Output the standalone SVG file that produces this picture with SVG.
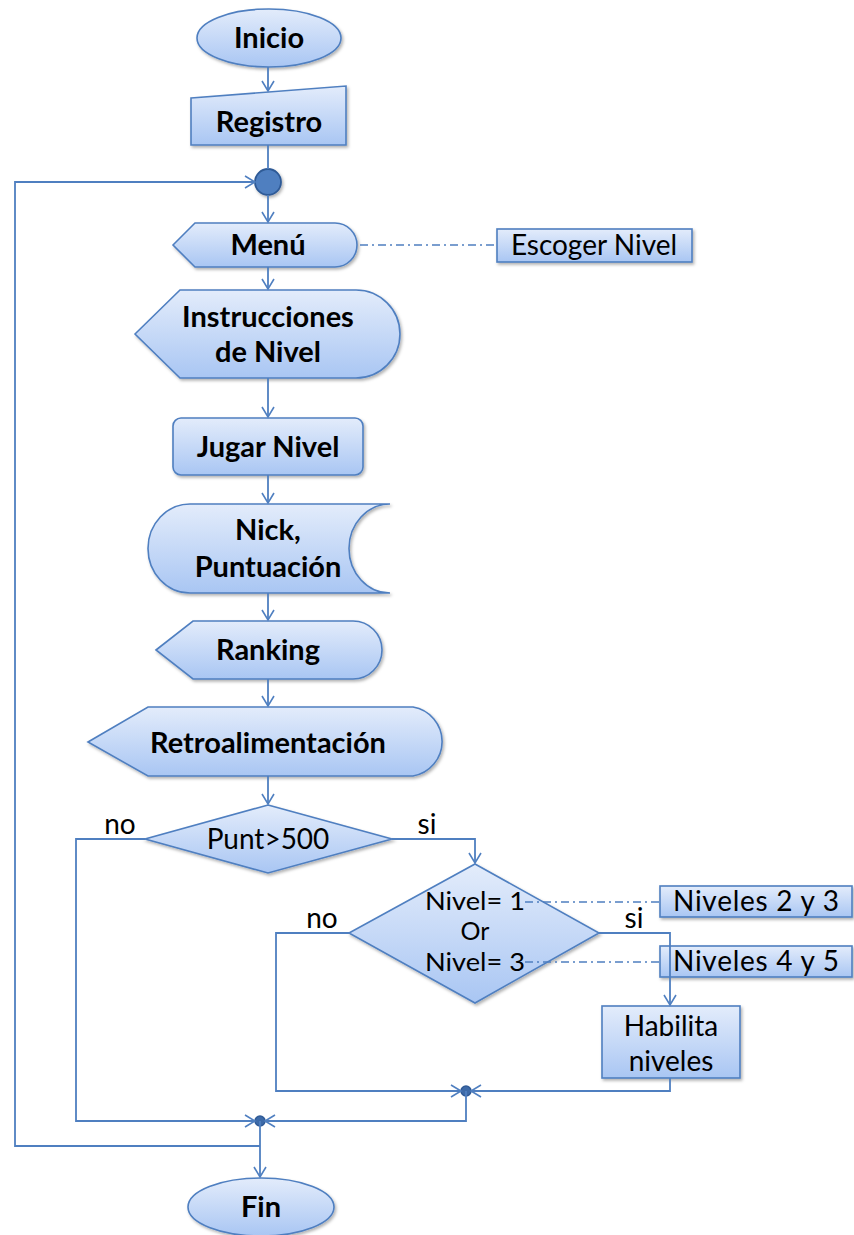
<svg xmlns="http://www.w3.org/2000/svg" width="854" height="1235" viewBox="0 0 854 1235">
<defs>
<linearGradient id="g" x1="0" y1="0" x2="0" y2="1">
<stop offset="0" stop-color="#e3ecfb"/>
<stop offset="1" stop-color="#a9c6f3"/>
</linearGradient>
<filter id="sh" x="-10%" y="-10%" width="130%" height="140%">
<feDropShadow dx="1.5" dy="2" stdDeviation="1.5" flood-color="#000" flood-opacity="0.3"/>
</filter>
<marker id="ar" markerUnits="userSpaceOnUse" markerWidth="14" markerHeight="14" refX="11" refY="7" orient="auto">
<path d="M1,1 L11,7 L1,13" fill="none" stroke="#4f7fc0" stroke-width="1.6"/>
</marker>
</defs>
<style>
.n{fill:url(#g);stroke:#4f7fc0;stroke-width:1.6;filter:url(#sh)}
.c{fill:none;stroke:#4f7fc0;stroke-width:1.8}
.d{fill:none;stroke:#4f7fc0;stroke-width:1.4;stroke-dasharray:8,4,2,4}
.b{font-family:Lato,"Liberation Sans",sans-serif;font-weight:bold;font-size:29px;fill:#000;text-anchor:middle}
.r{font-family:Lato,"Liberation Sans",sans-serif;font-size:28px;fill:#000;text-anchor:middle}
.s{font-family:Lato,"Liberation Sans",sans-serif;font-size:25px;fill:#000;text-anchor:middle}
.j{fill:#3d6aa8;stroke:#2f5a96;stroke-width:1.5}
</style>
<g id="inicio"><ellipse class="n" cx="269" cy="38" rx="72" ry="29"/><text class="b" x="269" y="48">Inicio</text></g>
<g id="registro"><path class="n" d="M191,98 L346,86 L346,145 L191,145 Z"/><text class="b" x="269" y="132">Registro</text></g>
<g id="conector"><circle cx="268" cy="182" r="13" fill="#4f7fc0" stroke="#2f5a96" stroke-width="1.8" filter="url(#sh)"/></g>
<g id="menu"><path class="n" d="M173,245 L195,223 L335,223 A22,22 0 0 1 335,267 L195,267 Z"/><text class="b" x="268" y="255">Menú</text></g>
<g id="escoger"><rect class="n" x="497" y="229" width="195" height="33"/><text class="r" x="594" y="255">Escoger Nivel</text></g>
<g id="instrucciones"><path class="n" d="M135,334 L180,290 L356,290 A44,44 0 0 1 356,378 L180,378 Z"/><text class="b" x="268" y="327">Instrucciones</text><text class="b" x="268" y="362">de Nivel</text></g>
<g id="jugar"><rect class="n" x="173" y="418" width="190" height="57" rx="8"/><text class="b" x="268" y="457">Jugar Nivel</text></g>
<g id="nick"><path class="n" d="M190,504 L390,504 A41,44.5 0 0 0 390,593 L190,593 A42,44.5 0 0 1 190,504 Z"/><text class="b" x="268" y="540">Nick,</text><text class="b" x="268" y="577">Puntuación</text></g>
<g id="ranking"><path class="n" d="M156,650 L193,621 L353,621 A29,29 0 0 1 353,679 L193,679 Z"/><text class="b" x="268" y="660">Ranking</text></g>
<g id="retro"><path class="n" d="M88,742 L148,707 L413,707 A35,35 0 0 1 413,776 L148,776 Z"/><text class="b" x="268" y="753">Retroalimentación</text></g>
<g id="punt"><path class="n" d="M268,805 L392,839 L268,873 L145,839 Z"/><text class="r" x="268" y="849">Punt&gt;500</text></g>
<text class="r" x="120" y="834">no</text>
<text class="r" x="427" y="834">si</text>
<g id="nivel"><path class="n" d="M475,864 L599,933 L475,1003 L349,933 Z"/><text class="s" x="475" y="910" textLength="100" lengthAdjust="spacingAndGlyphs">Nivel= 1</text><text class="s" x="475" y="940">Or</text><text class="s" x="475" y="971" textLength="100" lengthAdjust="spacingAndGlyphs">Nivel= 3</text></g>
<text class="r" x="322" y="928">no</text>
<text class="r" x="634" y="928">si</text>
<g id="niveles23"><rect class="n" x="660" y="886" width="192" height="31"/><text class="r" x="756" y="911" textLength="166" lengthAdjust="spacing">Niveles 2 y 3</text></g>
<g id="niveles45"><rect class="n" x="660" y="946" width="192" height="31"/><text class="r" x="756" y="971" textLength="166" lengthAdjust="spacing">Niveles 4 y 5</text></g>
<g id="habilita"><rect class="n" x="602" y="1006" width="138" height="72"/><text class="r" x="671" y="1036">Habilita</text><text class="r" x="671" y="1071">niveles</text></g>
<g id="junction1"><circle class="j" cx="466" cy="1091" r="5"/></g>
<g id="junction2"><circle class="j" cx="260" cy="1121" r="5"/></g>
<g id="fin"><ellipse class="n" cx="261" cy="1207" rx="73" ry="29"/><text class="b" x="261" y="1217">Fin</text></g>
<g id="connectors">
<path class="c" marker-end="url(#ar)" d="M268,67 L268,91"/>
<path class="c" d="M268,145 L268,169"/>
<path class="c" marker-end="url(#ar)" d="M268,195 L268,222"/>
<path class="c" marker-end="url(#ar)" d="M268,267 L268,289"/>
<path class="c" marker-end="url(#ar)" d="M268,378 L268,417"/>
<path class="c" marker-end="url(#ar)" d="M268,475 L268,503"/>
<path class="c" marker-end="url(#ar)" d="M268,593 L268,620"/>
<path class="c" marker-end="url(#ar)" d="M268,679 L268,706"/>
<path class="c" marker-end="url(#ar)" d="M268,776 L268,804"/>
<path class="c" marker-end="url(#ar)" d="M145,839 L76,839 L76,1121 L255,1121"/>
<path class="c" marker-end="url(#ar)" d="M392,839 L475,839 L475,863"/>
<path class="c" marker-end="url(#ar)" d="M349,933 L276,933 L276,1091 L461,1091"/>
<path class="c" marker-end="url(#ar)" d="M599,933 L670,933 L670,1005"/>
<path class="c" marker-end="url(#ar)" d="M670,1078 L670,1091 L471,1091"/>
<path class="c" marker-end="url(#ar)" d="M466,1091 L466,1121 L265,1121"/>
<path class="c" marker-end="url(#ar)" d="M260,1121 L260,1177"/>
<path class="c" marker-end="url(#ar)" d="M260,1146 L15,1146 L15,182 L255,182"/>
<path class="d" d="M360,245 L497,245"/>
<path class="d" d="M525,902 L660,902"/>
<path class="d" d="M525,962 L660,962"/>
</g>
</svg>
